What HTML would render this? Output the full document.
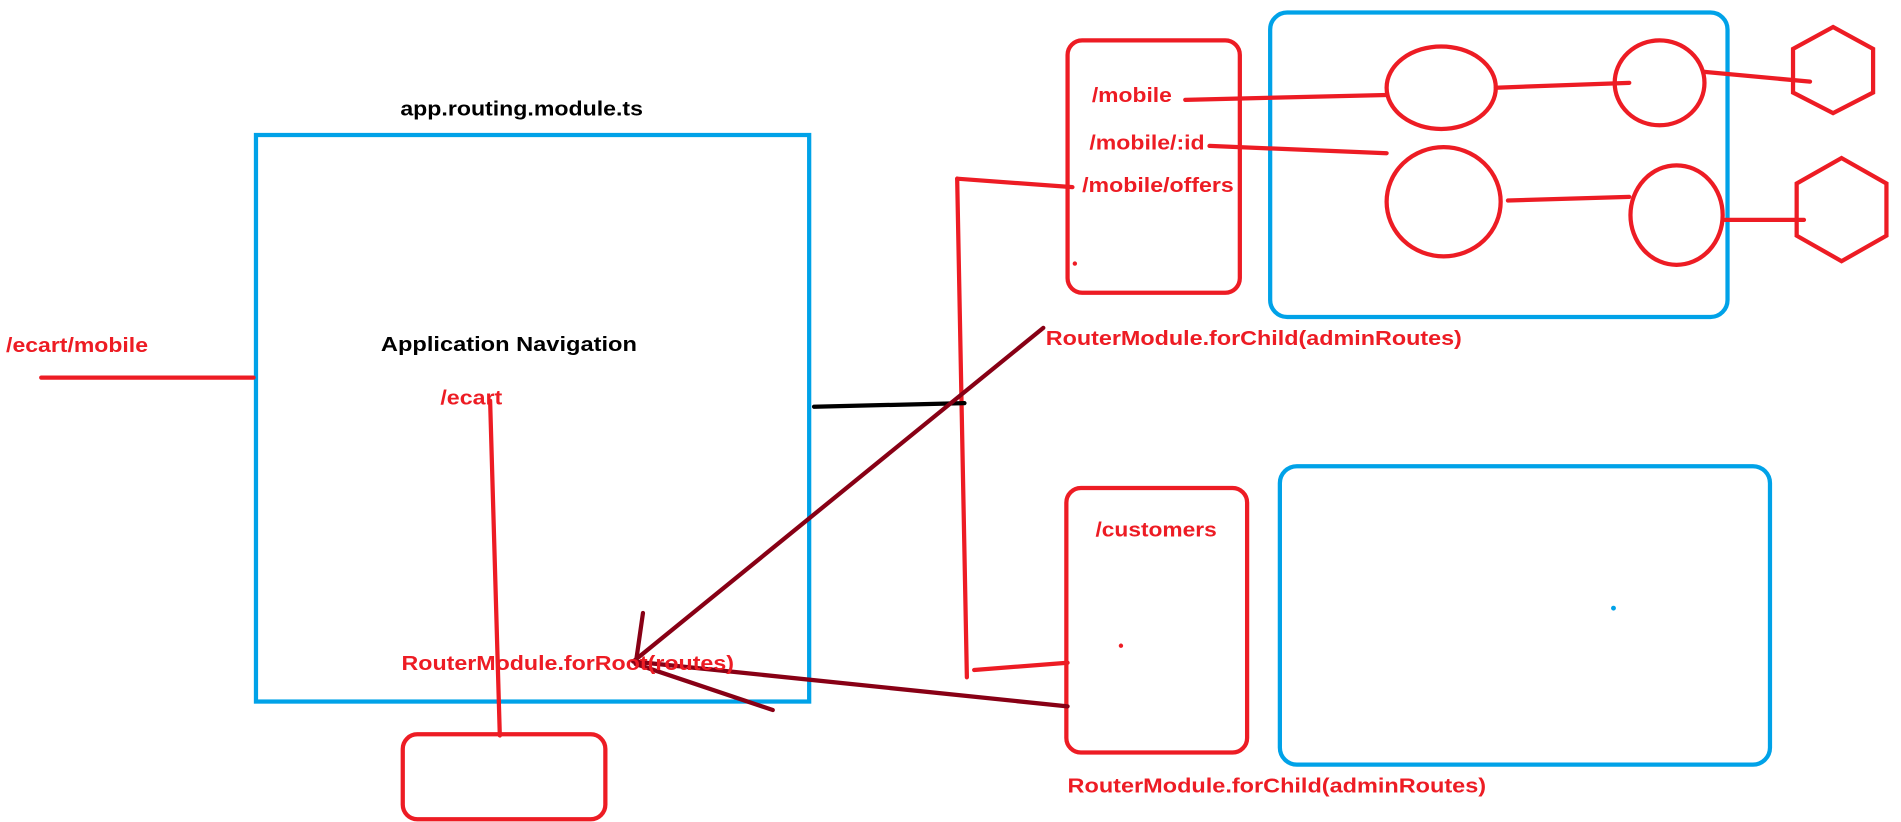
<!DOCTYPE html>
<html><head><meta charset="utf-8"><style>html,body{margin:0;padding:0;background:#fff;overflow:hidden}svg{display:block}text{font-family:"Liberation Sans",Arial,sans-serif;font-weight:bold;font-size:17px}</style></head>
<body>
<svg width="1901" height="822" viewBox="0 0 1567 677" xmlns="http://www.w3.org/2000/svg">
<g fill="none" stroke-linecap="round">
<!-- blue boxes -->
<rect x="211" y="111" width="456" height="467" stroke="#00a2e8" stroke-width="3.5"/>
<rect x="1047" y="10" width="377" height="251" rx="14" stroke="#00a2e8" stroke-width="3.5"/>
<rect x="1055" y="384" width="404" height="246" rx="14" stroke="#00a2e8" stroke-width="3.5"/>
<!-- red boxes -->
<rect x="880" y="33" width="142" height="208" rx="12" stroke="#ed1c24" stroke-width="3.5"/>
<rect x="879" y="402" width="149" height="218" rx="12" stroke="#ed1c24" stroke-width="3.5"/>
<rect x="332" y="605" width="167" height="70" rx="12" stroke="#ed1c24" stroke-width="3.5"/>
<!-- ellipses -->
<g stroke="#ed1c24" stroke-width="3.5">
<ellipse cx="1188" cy="72" rx="45" ry="34"/>
<ellipse cx="1368" cy="68" rx="37" ry="35"/>
<ellipse cx="1190" cy="166" rx="47" ry="45"/>
<ellipse cx="1382" cy="177" rx="38" ry="41"/>
<polygon points="1511,22 1544,40 1544,76 1511,93 1478,76 1478,40"/>
<polygon points="1518,130 1555,151 1555,194 1518,215 1481,194 1481,151"/>
<!-- red lines -->
<line x1="34" y1="311" x2="209" y2="311"/>
<line x1="404" y1="330" x2="412" y2="606"/>
<line x1="789" y1="147" x2="797" y2="558"/>
<line x1="789" y1="147" x2="884" y2="154"/>
<line x1="803" y1="552" x2="880" y2="546"/>
<line x1="977" y1="82" x2="1143" y2="78"/>
<line x1="1233" y1="72" x2="1343" y2="68"/>
<line x1="1405" y1="59" x2="1492" y2="67"/>
<line x1="997" y1="120" x2="1143" y2="126"/>
<line x1="1243" y1="165" x2="1343" y2="162"/>
<line x1="1422" y1="181" x2="1487" y2="181"/>
</g>
<line x1="671" y1="335" x2="795" y2="332" stroke="#000" stroke-width="3.5"/>
<!-- dark red arrows -->
<g stroke="#880015" stroke-width="3.5">
<line x1="860" y1="270" x2="522" y2="545"/>
<line x1="880" y1="582" x2="522" y2="545"/>
<line x1="530" y1="505" x2="524" y2="547"/>
<line x1="524" y1="547" x2="637" y2="585"/>
</g>
</g>
<circle cx="886" cy="217" r="1.8" fill="#ed1c24"/>
<circle cx="924" cy="532" r="1.8" fill="#ed1c24"/>
<circle cx="1330" cy="501" r="2" fill="#00a2e8"/>
<g fill="#000">
<text x="330" y="95" textLength="200" lengthAdjust="spacingAndGlyphs">app.routing.module.ts</text>
<text x="314" y="289" textLength="211" lengthAdjust="spacingAndGlyphs">Application Navigation</text>
</g>
<g fill="#ed1c24">
<text x="5" y="290" textLength="117" lengthAdjust="spacingAndGlyphs">/ecart/mobile</text>
<text x="363" y="333" textLength="51" lengthAdjust="spacingAndGlyphs">/ecart</text>
<text x="331" y="552" textLength="274" lengthAdjust="spacingAndGlyphs">RouterModule.forRoot(routes)</text>
<text x="900" y="84" textLength="66" lengthAdjust="spacingAndGlyphs">/mobile</text>
<text x="898" y="123" textLength="95" lengthAdjust="spacingAndGlyphs">/mobile/:id</text>
<text x="892" y="158" textLength="125" lengthAdjust="spacingAndGlyphs">/mobile/offers</text>
<text x="862" y="284" textLength="343" lengthAdjust="spacingAndGlyphs">RouterModule.forChild(adminRoutes)</text>
<text x="903" y="442" textLength="100" lengthAdjust="spacingAndGlyphs">/customers</text>
<text x="880" y="653" textLength="345" lengthAdjust="spacingAndGlyphs">RouterModule.forChild(adminRoutes)</text>
</g>
</svg>
</body></html>
